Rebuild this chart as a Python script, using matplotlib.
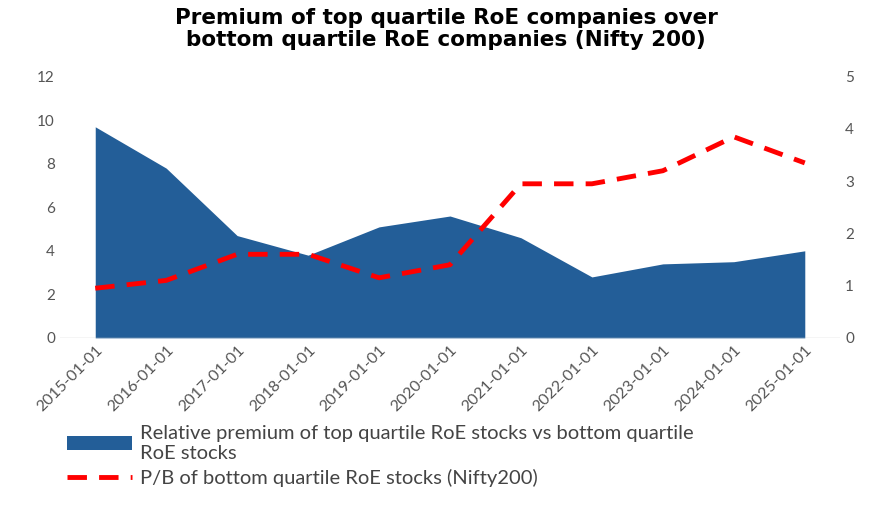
import matplotlib
matplotlib.use('Agg')
from matplotlib import pyplot as plt

years = ['2015-01-01', '2016-01-01', '2017-01-01', '2018-01-01', '2019-01-01', '2020-01-01',
         '2021-01-01', '2022-01-01', '2023-01-01', '2024-01-01', '2025-01-01']
premium = [9.7, 7.8, 4.7, 3.8, 5.1, 5.6, 4.6, 2.8, 3.4, 3.5, 4.0]
pb_bottom = [0.95, 1.1, 1.6, 1.6, 1.15, 1.4, 2.95, 2.95, 3.2, 3.85, 3.35]

plt.rcParams['font.family'] = ['Lato', 'DejaVu Sans']

fig = plt.figure(figsize=(8.92, 5.05), dpi=100)
ax = fig.add_axes([0.067, 0.331, 0.875, 0.517])
x = list(range(len(years)))
ax.fill_between(x, premium, 0, color='#235E98', linewidth=0,
                label='Relative premium of top quartile RoE stocks vs bottom quartile\nRoE stocks')
ax.set_ylim(0, 12)
ax.set_yticks(range(0, 13, 2))
ax.set_xlim(-0.5, 10.5)
ax.set_xticks(x)
ax.set_xticklabels(years, rotation=45, ha='right', rotation_mode='anchor', color='#555555', fontsize=11.5)
ax.tick_params(axis='y', colors='#555555', labelsize=11, length=0)
ax.tick_params(axis='x', length=0)
for s in ax.spines.values():
    s.set_visible(False)
ax.axhline(0, color='#d0d0d0', linewidth=1)

ax2 = ax.twinx()
ax2.plot(x, pb_bottom, color='#FF0000', linestyle=(0, (4, 2.5)), linewidth=3.5,
         label='P/B of bottom quartile RoE stocks (Nifty200)')
ax2.set_ylim(0, 5)
ax2.set_yticks(range(0, 6))
ax2.tick_params(axis='y', colors='#555555', labelsize=11, length=0)
for s in ax2.spines.values():
    s.set_visible(False)

fig.suptitle('Premium of top quartile RoE companies over\nbottom quartile RoE companies (Nifty 200)',
             fontsize=15.5, fontweight='bold', family='DejaVu Sans', y=0.985, linespacing=1.15)

h1, l1 = ax.get_legend_handles_labels()
h2, l2 = ax2.get_legend_handles_labels()
fig.legend(h1 + h2, l1 + l2, loc='lower left', bbox_to_anchor=(0.055, 0.0), frameon=False,
           fontsize=14.5, labelcolor='#444444', handlelength=3.2, handletextpad=0.4,
           labelspacing=0.35)

fig.savefig('out.png', dpi=100)
